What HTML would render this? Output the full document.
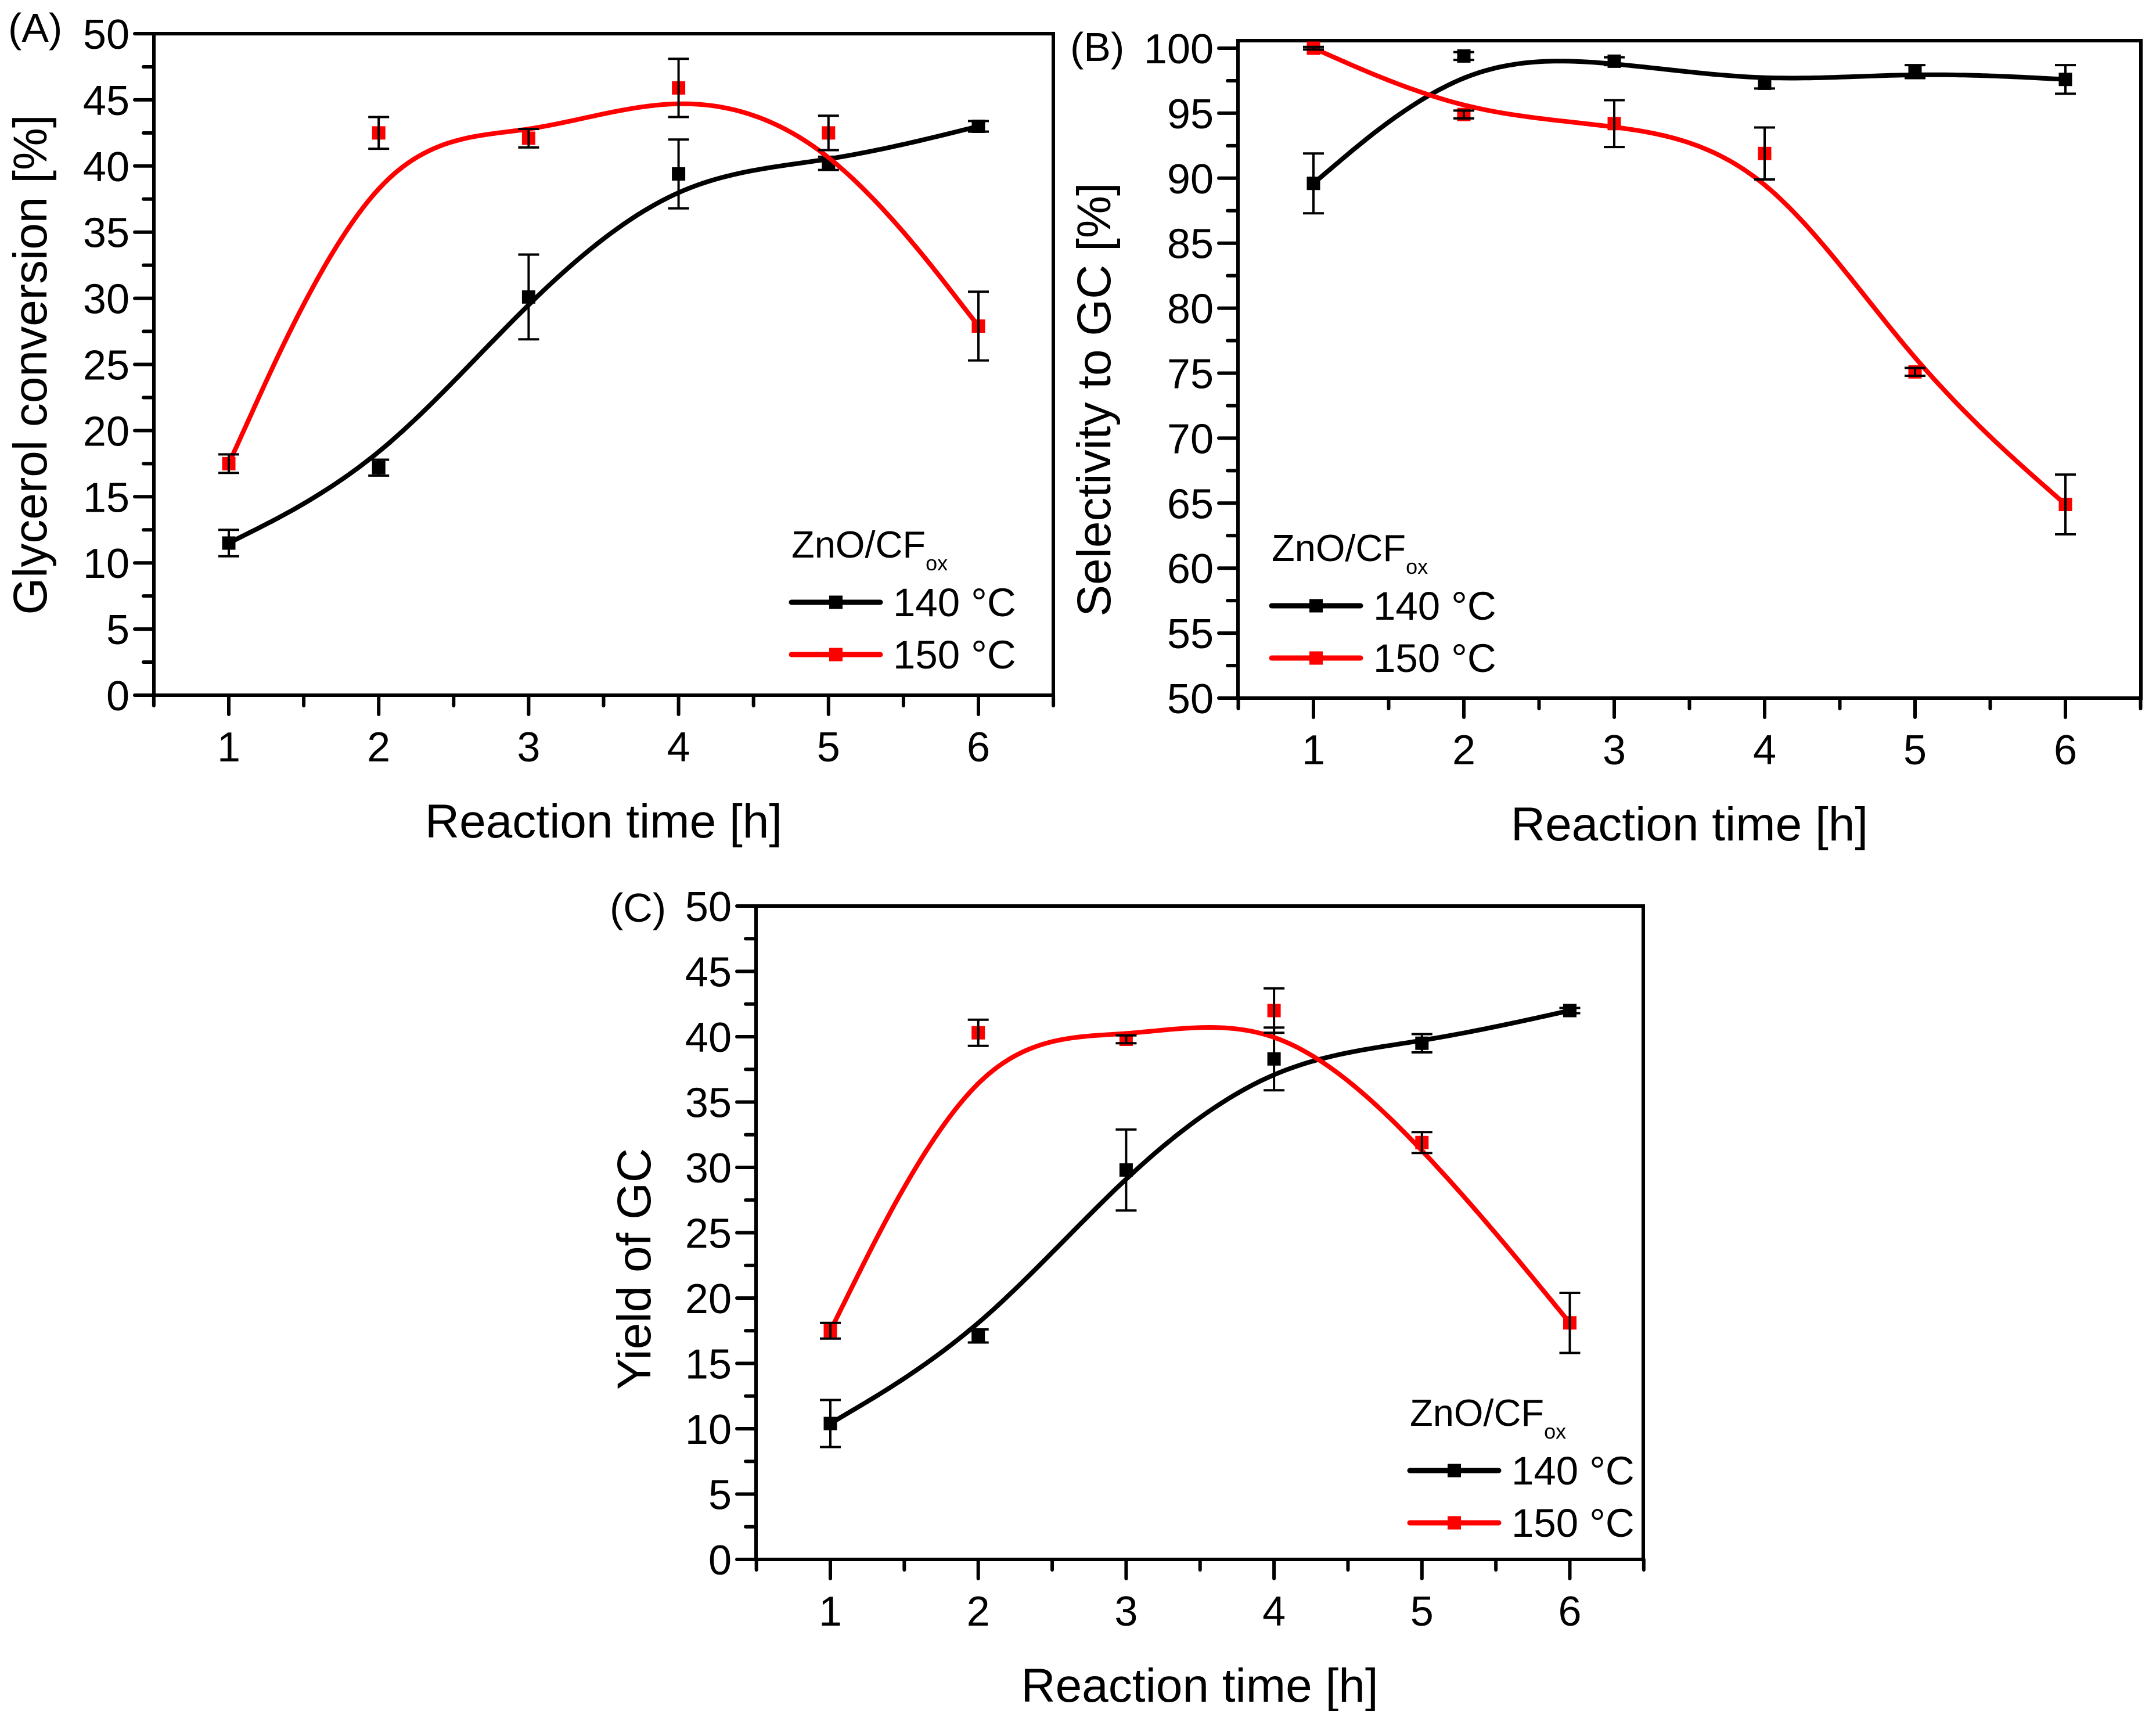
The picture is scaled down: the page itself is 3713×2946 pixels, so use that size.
<!DOCTYPE html>
<html><head><meta charset="utf-8"><style>
html,body{margin:0;padding:0;background:#fff;}
svg{display:block;}
text{font-family:"Liberation Sans",Arial,sans-serif;fill:#000;}
</style></head><body>
<svg id="fig" width="3713" height="2946" viewBox="0 0 3713 2946" xmlns="http://www.w3.org/2000/svg"></svg>
<script>
// ---- data ----
const times = [1, 2, 3, 4, 5, 6];
const convBlack = [11.5, 17.2, 30.1, 39.4, 40.2, 43.0];
const convBlackErr = [1.0, 0.6, 3.2, 2.6, 0.5, 0.4];
const convRed = [17.5, 42.5, 42.1, 45.9, 42.5, 27.9];
const convRedErr = [0.7, 1.2, 0.7, 2.2, 1.3, 2.6];
const selBlack = [89.6, 99.4, 99.0, 97.3, 98.2, 97.6];
const selBlackErr = [2.3, 0.3, 0.3, 0.4, 0.5, 1.1];
const selRed = [100, 94.9, 94.2, 91.9, 75.1, 64.9];
const selRedErr = [0.1, 0.3, 1.8, 2.0, 0.3, 2.3];
const yieldBlack = [10.4, 17.1, 29.8, 38.3, 39.5, 42.0];
const yieldBlackErr = [1.8, 0.5, 3.1, 2.4, 0.7, 0.2];
const yieldRed = [17.5, 40.3, 39.8, 42.0, 31.9, 18.1];
const yieldRedErr = [0.6, 1.0, 0.3, 1.7, 0.8, 2.3];
const xTicks = [1, 2, 3, 4, 5, 6];
const yTicksA = [0, 5, 10, 15, 20, 25, 30, 35, 40, 45, 50];
const yTicksB = [50, 55, 60, 65, 70, 75, 80, 85, 90, 95, 100];
const yTicksC = [0, 5, 10, 15, 20, 25, 30, 35, 40, 45, 50];

const NS = "http://www.w3.org/2000/svg";
const svg = document.getElementById('fig');
function el(tag, attrs, parent, txt) {
  const e = document.createElementNS(NS, tag);
  for (const k in attrs) e.setAttribute(k, attrs[k]);
  if (txt !== undefined) e.textContent = txt;
  (parent || svg).appendChild(e);
  return e;
}

function bspline(P) {
  const Q = [P[0], P[0], ...P, P[P.length - 1], P[P.length - 1]];
  const out = [];
  for (let i = 0; i < Q.length - 3; i++) {
    for (let s = 0; s <= 30; s++) {
      const t = s / 30, t2 = t * t, t3 = t2 * t;
      const b0 = (1 - t) ** 3 / 6, b1 = (3 * t3 - 6 * t2 + 4) / 6, b2 = (-3 * t3 + 3 * t2 + 3 * t + 1) / 6, b3 = t3 / 6;
      out.push([b0 * Q[i][0] + b1 * Q[i + 1][0] + b2 * Q[i + 2][0] + b3 * Q[i + 3][0],
                b0 * Q[i][1] + b1 * Q[i + 1][1] + b2 * Q[i + 2][1] + b3 * Q[i + 3][1]]);
    }
  }
  return out;
}

function panel(cfg) {
  const g = el('g', {});
  
  
  const L = cfg.left, R = cfg.right, T = cfg.top, B = cfg.bottom;
  const sx = v => cfg.x1 + (v - 1) * cfg.unit;
  const sy = v => cfg.yb - (v - cfg.ymin) * cfg.ppu;
  const frame = el('rect', {x: L, y: T, width: R - L, height: B - T, fill: 'none', stroke: '#000', 'stroke-width': 6}, g);
  
  
  for (let v = 0.5; v <= 6.51; v += 0.5) {
    const major = Math.abs(v - Math.round(v)) < 0.01;
    el('line', {x1: sx(v), x2: sx(v), y1: B, y2: B + (major ? 33 : 18), stroke: '#000', 'stroke-width': 6, 'stroke-linecap': 'round'}, g);
  }
  xTicks.forEach(v => {
    const t = el('text', {x: sx(v), y: B + 114, 'font-size': 72, 'text-anchor': 'middle'}, g, String(v));
    
    
  });
  const yt = cfg.yticks;
  for (let i = 0; i < yt.length; i++) {
    el('line', {x1: L, x2: L - 33, y1: sy(yt[i]), y2: sy(yt[i]), stroke: '#000', 'stroke-width': 6, 'stroke-linecap': 'round'}, g);
    if (i < yt.length - 1) {
      const m = (yt[i] + yt[i + 1]) / 2;
      el('line', {x1: L, x2: L - 18, y1: sy(m), y2: sy(m), stroke: '#000', 'stroke-width': 6, 'stroke-linecap': 'round'}, g);
    }
    const t = el('text', {x: L - 42, y: sy(yt[i]) + 26, 'font-size': 72, 'text-anchor': 'end'}, g, String(yt[i]));
    
    
  }
  const xt = el('text', {x: (L + R) / 2, y: B + 245, 'font-size': 82, 'text-anchor': 'middle'}, g, 'Reaction time [h]');
  
  
  const ytl = el('text', {x: 0, y: 0, 'font-size': 82, 'text-anchor': 'middle', transform: `translate(${cfg.ytx},${cfg.yty}) rotate(-90)`}, g, cfg.ytitle);
  
  
  const pl = el('text', {x: cfg.plx, y: cfg.ply, 'font-size': 70}, g, cfg.label);
  
  
  cfg.series.forEach(s => {
    const sg = el('g', {}, g);
    
    
    const pts = times.map((t, i) => [sx(t), sy(s.vals[i])]);
    const curve = bspline(pts);
    const line = el('path', {d: 'M' + curve.map(p => p[0].toFixed(1) + ',' + p[1].toFixed(1)).join('L'), fill: 'none', stroke: s.color, 'stroke-width': 8, 'stroke-linejoin': 'round'}, sg);
    
    
    times.forEach((t, i) => {
      const m = el('rect', {x: sx(t) - 11.5, y: sy(s.vals[i]) - 11.5, width: 23, height: 23, fill: s.color}, sg);
      
      
      const e = s.errs[i];
      const eb = el('path', {d: `M${sx(t)},${sy(s.vals[i] + e)}V${sy(s.vals[i] - e)}M${sx(t) - 18},${sy(s.vals[i] + e)}h36M${sx(t) - 18},${sy(s.vals[i] - e)}h36`, stroke: '#000', 'stroke-width': 4, fill: 'none'}, sg);
      
      
    });
  });
  const lg = el('g', {}, g);
  
  
  const lx = cfg.legx, ly = cfg.legy;
  const lt = el('text', {x: lx, y: ly, 'font-size': 65}, lg);
  el('tspan', {}, lt, 'ZnO/CF');
  el('tspan', {'font-size': 36, dy: 22}, lt, 'ox');
  [['#000', '140 °C', 77], ['#f00', '150 °C', 167]].forEach(([c, txt, dy]) => {
    const en = el('g', {}, lg);
    
    
    el('line', {x1: lx, x2: lx + 153, y1: ly + dy, y2: ly + dy, stroke: c, 'stroke-width': 9, 'stroke-linecap': 'round'}, en);
    el('rect', {x: lx + 65, y: ly + dy - 11.5, width: 23, height: 23, fill: c}, en);
    el('text', {x: lx + 175, y: ly + dy + 24, 'font-size': 69}, en, txt);
  });
}

panel({name: 'panel-a-glycerol-conversion', left: 265, right: 1814, top: 58, bottom: 1197,
  x1: 394, unit: 258.2, ymin: 0, yb: 1197, ppu: (1197 - 58) / 50, yticks: yTicksA,
  ytitle: 'Glycerol conversion [%]', ytx: 80, yty: 628, label: '(A)', plx: 14, ply: 72,
  legx: 1363, legy: 960,
  series: [{name: 'series-140c', color: '#000', vals: convBlack, errs: convBlackErr},
           {name: 'series-150c', color: '#f00', vals: convRed, errs: convRedErr}]});

panel({name: 'panel-b-selectivity', left: 2132, right: 3687, top: 70, bottom: 1202,
  x1: 2262, unit: 259, ymin: 50, yb: 1202, ppu: (1202 - 83) / 50, yticks: yTicksB,
  ytitle: 'Selectivity to GC [%]', ytx: 1912, yty: 688, label: '(B)', plx: 1843, ply: 105,
  legx: 2190, legy: 966,
  series: [{name: 'series-140c', color: '#000', vals: selBlack, errs: selBlackErr},
           {name: 'series-150c', color: '#f00', vals: selRed, errs: selRedErr}]});

panel({name: 'panel-c-yield', left: 1302, right: 2830, top: 1560, bottom: 2685,
  x1: 1430, unit: 254.7, ymin: 0, yb: 2685, ppu: (2685 - 1560) / 50, yticks: yTicksC,
  ytitle: 'Yield of GC', ytx: 1120, yty: 2185, label: '(C)', plx: 1050, ply: 1587,
  legx: 2428, legy: 2455,
  series: [{name: 'series-140c', color: '#000', vals: yieldBlack, errs: yieldBlackErr},
           {name: 'series-150c', color: '#f00', vals: yieldRed, errs: yieldRedErr}]});
</script>
</body></html>
